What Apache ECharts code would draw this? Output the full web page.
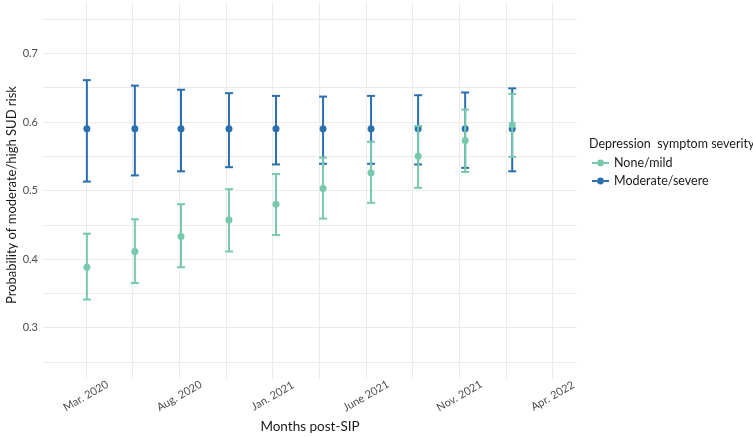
<!DOCTYPE html>
<html>
<head>
<meta charset="utf-8">
<script src="https://cdn.jsdelivr.net/npm/echarts@6/dist/echarts.min.js"></script>
<style>
html,body{margin:0;padding:0;background:#fff;}
#chart{width:753px;height:437px;}
</style>
</head>
<body>
<div id="chart"></div>
<script>
// Months since Mar. 2020 for each survey wave
const xMonths = [0.05, 2.62, 5.09, 7.66, 10.18, 12.70, 15.27, 17.79, 20.31, 22.83];

// None/mild depression symptoms
const mildMean  = [0.388, 0.411, 0.433, 0.457, 0.480, 0.503, 0.526, 0.550, 0.573, 0.596];
const mildLower = [0.341, 0.365, 0.388, 0.411, 0.435, 0.459, 0.482, 0.504, 0.527, 0.549];
const mildUpper = [0.437, 0.458, 0.480, 0.502, 0.524, 0.548, 0.571, 0.594, 0.618, 0.641];

// Moderate/severe depression symptoms
const sevMean  = [0.590, 0.590, 0.590, 0.590, 0.590, 0.590, 0.590, 0.590, 0.590, 0.590];
const sevLower = [0.513, 0.522, 0.528, 0.534, 0.538, 0.539, 0.539, 0.538, 0.533, 0.528];
const sevUpper = [0.661, 0.653, 0.647, 0.642, 0.638, 0.637, 0.638, 0.639, 0.643, 0.649];

// Axis ticks
const xTickMonths = [0, 5, 10, 15, 20, 25];
const xTickLabels = ['Mar. 2020', 'Aug. 2020', 'Jan. 2021', 'June 2021', 'Nov. 2021', 'Apr. 2022'];
const xGridMonths = [0, 2.5, 5, 7.5, 10, 12.5, 15, 17.5, 20, 22.5, 25];
const yTickValues = [0.3, 0.4, 0.5, 0.6, 0.7];
const yGridValues = [0.25, 0.3, 0.35, 0.4, 0.45, 0.5, 0.55, 0.6, 0.65, 0.7, 0.75];

const seriesNames = ['None/mild', 'Moderate/severe'];
const legendTitle = 'Depression  symptom severity';
const xTitle = 'Months post-SIP';
const yTitle = 'Probability of moderate/high SUD risk';

const GREEN = '#78c8b0';
const BLUE = '#2a6fae';
const FONT = 'Lato';

function ciData(lo, hi) { return xMonths.map((x, i) => [x, lo[i], hi[i]]); }
function ptData(m) { return xMonths.map((x, i) => [x, m[i]]); }

function errRender(color) {
  return function (params, api) {
    const x = api.value(0);
    const pLo = api.coord([x, api.value(1)]);
    const pHi = api.coord([x, api.value(2)]);
    const w = 4;
    const st = { stroke: color, lineWidth: 2 };
    return {
      type: 'group',
      children: [
        { type: 'line', shape: { x1: pLo[0], y1: pLo[1], x2: pHi[0], y2: pHi[1] }, style: st },
        { type: 'line', shape: { x1: pLo[0] - w, y1: pLo[1], x2: pLo[0] + w, y2: pLo[1] }, style: st },
        { type: 'line', shape: { x1: pHi[0] - w, y1: pHi[1], x2: pHi[0] + w, y2: pHi[1] }, style: st }
      ]
    };
  };
}

const ICON = 'path://M0,2.6h5.3v1.8h-5.3z M11.7,2.6h5.3v1.8h-5.3z M5.1,3.5a3.4,3.4 0 1,0 6.8,0a3.4,3.4 0 1,0 -6.8,0z';

const chart = echarts.init(document.getElementById('chart'), null, { renderer: 'canvas' });
chart.setOption({
  backgroundColor: '#ffffff',
  animation: false,
  textStyle: { fontFamily: FONT },
  title: {
    text: legendTitle, left: 589, top: 137, padding: 0,
    textStyle: { fontFamily: FONT, fontSize: 12.5, fontWeight: 'normal', color: '#1a1a1a' }
  },
  legend: {
    data: seriesNames, orient: 'vertical', left: 592, top: 156, padding: 0,
    itemWidth: 17, itemHeight: 7, itemGap: 4, icon: ICON,
    textStyle: { fontFamily: FONT, fontSize: 12.5, color: '#1a1a1a', lineHeight: 14 }
  },
  graphic: [{
    type: 'text', x: 12, y: 195, rotation: Math.PI / 2,
    style: { text: yTitle, fontFamily: FONT, fontSize: 13, fill: '#1a1a1a', align: 'center', verticalAlign: 'middle' }
  }],
  grid: { left: 43, right: 176, top: 2, bottom: 58, containLabel: false, outerBoundsMode: 'none' },
  xAxis: {
    type: 'value', min: -2.3, max: 26.3,
    axisLine: { show: false },
    axisTick: { show: false, customValues: xGridMonths },
    axisLabel: {
      customValues: xTickMonths,
      formatter: v => { const i = xTickMonths.indexOf(v); return i >= 0 ? xTickLabels[i] : ''; },
      rotate: 30, align: 'center', verticalAlign: 'middle', margin: 17,
      fontFamily: FONT, fontSize: 11, color: '#4d4d4d'
    },
    splitLine: { show: true, lineStyle: { color: '#ebebeb', width: 1 } },
    name: xTitle, nameLocation: 'middle', nameGap: 41,
    nameTextStyle: { fontFamily: FONT, fontSize: 13.5, color: '#1a1a1a' }
  },
  yAxis: {
    type: 'value', min: 0.225, max: 0.775,
    axisLine: { show: false },
    axisTick: { show: false, customValues: yGridValues },
    axisLabel: {
      customValues: yTickValues,
      formatter: v => v.toFixed(1),
      margin: 5, fontFamily: FONT, fontSize: 11, color: '#4d4d4d'
    },
    splitLine: { show: true, lineStyle: { color: '#ebebeb', width: 1 } }
  },
  series: [
    { type: 'custom', name: 'Moderate/severe CI', renderItem: errRender(BLUE),
      encode: { x: 0, y: [1, 2] }, data: ciData(sevLower, sevUpper), z: 2 },
    { type: 'scatter', name: seriesNames[1], data: ptData(sevMean), symbol: 'circle', symbolSize: 7,
      itemStyle: { color: BLUE, opacity: 1 }, z: 3 },
    { type: 'custom', name: 'None/mild CI', renderItem: errRender(GREEN),
      encode: { x: 0, y: [1, 2] }, data: ciData(mildLower, mildUpper), z: 4 },
    { type: 'scatter', name: seriesNames[0], data: ptData(mildMean), symbol: 'circle', symbolSize: 7,
      itemStyle: { color: GREEN, opacity: 1 }, z: 5 }
  ]
});
</script>
</body>
</html>
